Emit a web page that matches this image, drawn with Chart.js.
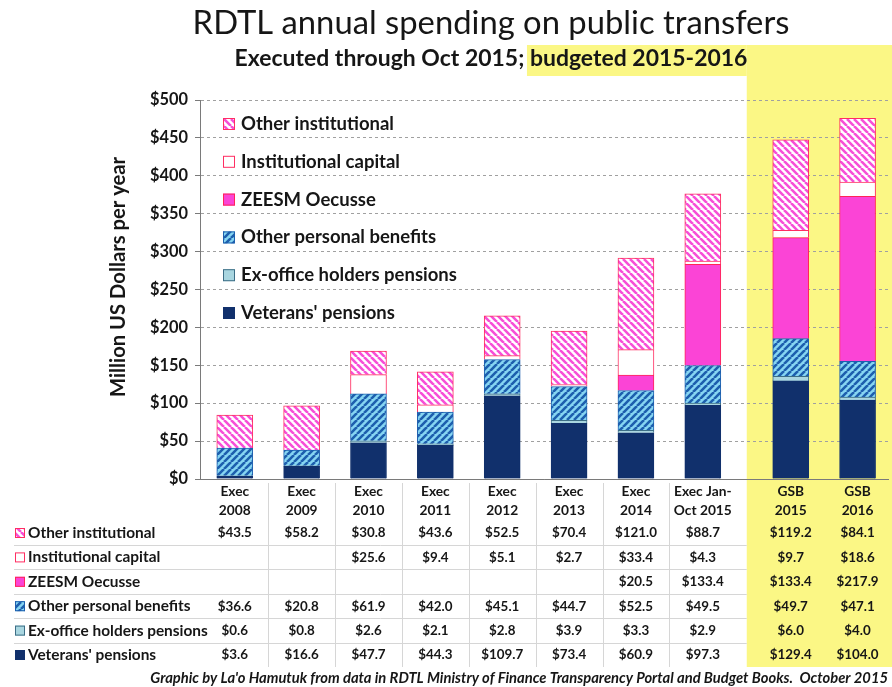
<!DOCTYPE html>
<html lang="en">
<head>
<meta charset="UTF-8">
<title>RDTL annual spending on public transfers</title>
<script src="https://cdn.jsdelivr.net/npm/chart.js"></script>
<style>
  body { margin: 0; background: #fff; }
  #chart { display: block; }
</style>
</head>
<body>
<canvas id="chart" width="892" height="687"></canvas>
<script>
// two-line column labels, also the header row of the table
const categories = [
  ['Exec', '2008'], ['Exec', '2009'], ['Exec', '2010'], ['Exec', '2011'], ['Exec', '2012'],
  ['Exec', '2013'], ['Exec', '2014'], ['Exec Jan-', 'Oct 2015'], ['GSB', '2015'], ['GSB', '2016']
];
// million US$
const veterans      = [3.6, 16.6, 47.7, 44.3, 109.7, 73.4, 60.9, 97.3, 129.4, 104.0];
const exOffice      = [0.6, 0.8, 2.6, 2.1, 2.8, 3.9, 3.3, 2.9, 6.0, 4.0];
const otherPersonal = [36.6, 20.8, 61.9, 42.0, 45.1, 44.7, 52.5, 49.5, 49.7, 47.1];
const zeesm         = [null, null, null, null, null, null, 20.5, 133.4, 133.4, 217.9];
const instCapital   = [null, null, 25.6, 9.4, 5.1, 2.7, 33.4, 4.3, 9.7, 18.6];
const otherInst     = [43.5, 58.2, 30.8, 43.6, 52.5, 70.4, 121.0, 88.7, 119.2, 84.1];
const yTickValues   = [0, 50, 100, 150, 200, 250, 300, 350, 400, 450, 500];

const FONT = 'Lato';
const BUDGET_FROM = 8;   // first budgeted column (yellow)
const GAP = 0.315;       // extra room before the budget columns
const colPos = i => i + (i >= BUDGET_FROM ? GAP : 0);

// diagonal hatch fills
function stripes(bg, fg, dir) {
  const s = 7, c = document.createElement('canvas');
  c.width = s; c.height = s;
  const g = c.getContext('2d');
  g.fillStyle = bg;
  g.fillRect(0, 0, s, s);
  g.strokeStyle = fg;
  g.lineWidth = 2.6;
  g.beginPath();
  for (let k = -1; k <= 1; k++) {
    if (dir === '/') { g.moveTo(k * s, s); g.lineTo(k * s + s, 0); }
    else { g.moveTo(k * s, 0); g.lineTo(k * s + s, s); }
  }
  g.stroke();
  return g.createPattern(c, 'repeat');
}

// bottom to top of the stack
const series = [
  { label: "Veterans' pensions", data: veterans, fill: '#11306c', border: '#11306c' },
  { label: 'Ex-office holders pensions', data: exOffice, fill: '#a9d6e0', border: '#3d6e86' },
  { label: 'Other personal benefits', data: otherPersonal, fill: stripes('#86d5f2', '#1d5fae', '/'), border: '#1d5fae' },
  { label: 'ZEESM Oecusse', data: zeesm, fill: '#fb44d6', border: '#ff2457' },
  { label: 'Institutional capital', data: instCapital, fill: '#ffffff', border: '#ff2e62' },
  { label: 'Other institutional', data: otherInst, fill: stripes('#ffffff', '#f74fd8', '\\'), border: '#ff2e62' }
];

const scratch = document.createElement('canvas').getContext('2d');
function fitSize(text, style, width) {
  scratch.font = style + ' 100px ' + FONT;
  return 100 * width / scratch.measureText(text).width;
}
function fitFont(text, style, width) {
  return style + ' ' + fitSize(text, style, width).toFixed(2) + 'px ' + FONT;
}

function swatch(ctx, x, y, size, s) {
  ctx.fillStyle = s.fill;
  ctx.fillRect(x, y, size, size);
  ctx.strokeStyle = s.border;
  ctx.lineWidth = 1;
  ctx.strokeRect(x + 0.5, y + 0.5, size - 1, size - 1);
}

const decor = {
  id: 'decor',
  beforeDraw(chart) {
    const ctx = chart.ctx, xs = chart.scales.x;
    const split = (xs.getPixelForValue(colPos(BUDGET_FROM - 1)) + xs.getPixelForValue(colPos(BUDGET_FROM))) / 2;
    ctx.save();
    ctx.fillStyle = '#ffffff';
    ctx.fillRect(0, 0, chart.width, chart.height);
    ctx.fillStyle = '#fbf785';
    ctx.fillRect(split, 45, chart.width - split, 622);
    // highlight behind "budgeted 2015-2016"
    const sub1 = 'Executed through Oct 2015; ', sub2 = 'budgeted 2015-2016';
    ctx.font = fitFont(sub1 + sub2, 'bold', 513);
    const left = 491 - ctx.measureText(sub1 + sub2).width / 2 + ctx.measureText(sub1).width;
    ctx.fillRect(left - 3, 45, split - left + 3, 31);
    ctx.restore();
  },
  afterDraw(chart) {
    const ctx = chart.ctx, xs = chart.scales.x;
    const split = (xs.getPixelForValue(colPos(BUDGET_FROM - 1)) + xs.getPixelForValue(colPos(BUDGET_FROM))) / 2;
    ctx.save();
    ctx.textBaseline = 'middle';
    ctx.fillStyle = '#161616';

    // titles
    ctx.textAlign = 'center';
    ctx.font = fitFont('RDTL annual spending on public transfers', 'normal', 597);
    ctx.fillText('RDTL annual spending on public transfers', 491, 23);
    ctx.font = fitFont('Executed through Oct 2015; budgeted 2015-2016', 'bold', 513);
    ctx.fillText('Executed through Oct 2015; budgeted 2015-2016', 491, 59);

    // y axis title
    ctx.save();
    ctx.translate(118, 277);
    ctx.rotate(-Math.PI / 2);
    ctx.font = fitFont('Million US Dollars per year', 'bold', 240);
    ctx.fillText('Million US Dollars per year', 0, 0);
    ctx.restore();

    // legend inside the plot, top series first
    const rows = series.slice().reverse();
    ctx.textAlign = 'left';
    ctx.font = fitFont('Ex-office holders pensions', 'bold', 216);
    rows.forEach((s, r) => {
      const y = 124 + r * 37.8;
      swatch(ctx, 223, y - 6, 12, s);
      ctx.fillStyle = '#161616';
      ctx.fillText(s.label, 241, y);
    });

    // table grid lines
    ctx.strokeStyle = '#d6d6d6';
    ctx.lineWidth = 1;
    ctx.beginPath();
    for (let r = 0; r < rows.length - 1; r++) {
      const y = Math.round(545 + r * 24.4) + 0.5;
      ctx.moveTo(14, y); ctx.lineTo(split, y);
    }
    for (let i = 0; i < BUDGET_FROM - 1; i++) {
      const x = Math.round((xs.getPixelForValue(colPos(i)) + xs.getPixelForValue(colPos(i + 1))) / 2) + 0.5;
      ctx.moveTo(x, 483); ctx.lineTo(x, 667);
    }
    ctx.stroke();

    // column headers
    ctx.textAlign = 'center';
    ctx.fillStyle = '#161616';
    ctx.font = fitFont('Oct 2015', 'bold', 58);
    categories.forEach((c, i) => {
      const x = xs.getPixelForValue(colPos(i));
      ctx.fillText(c[0], x, 492);
      ctx.fillText(c[1], x, 511);
    });

    // table rows
    const labelFont = fitFont('Ex-office holders pensions', 'bold', 180);
    const valueFont = fitFont('$109.7', 'bold', 42);
    rows.forEach((s, r) => {
      const y = 533 + r * 24.4;
      swatch(ctx, 15, y - 5, 10, s);
      ctx.fillStyle = '#161616';
      ctx.textAlign = 'left';
      ctx.font = labelFont;
      ctx.fillText(s.label, 28, y);
      ctx.textAlign = 'center';
      ctx.font = valueFont;
      s.data.forEach((v, i) => {
        if (v === null) return;
        ctx.fillText('$' + v.toFixed(1), xs.getPixelForValue(colPos(i)), y);
      });
    });

    // source line
    const src = "Graphic by La'o Hamutuk from data in RDTL Ministry of Finance Transparency Portal and Budget Books.  October 2015";
    ctx.textAlign = 'right';
    ctx.font = fitFont(src, 'italic bold', 738);
    ctx.fillText(src, 888, 678);
    ctx.restore();
  }
};

new Chart(document.getElementById('chart'), {
  type: 'bar',
  data: {
    datasets: series.map(s => ({
      label: s.label,
      data: s.data.map((v, i) => ({ x: colPos(i), y: v })).filter(p => p.y !== null),
      backgroundColor: s.fill,
      borderColor: s.border,
      borderWidth: 1,
      barThickness: 36
    }))
  },
  options: {
    responsive: false,
    animation: false,
    devicePixelRatio: 1,
    layout: { padding: { top: 100, right: 4, left: 0, bottom: 0 } },
    plugins: { legend: { display: false }, tooltip: { enabled: false } },
    scales: {
      x: {
        type: 'linear',
        min: -0.52,
        max: 9.77,
        offset: false,
        stacked: true,
        ticks: { display: false },
        grid: { display: false, drawTicks: false, offset: false },
        border: { color: '#7a7a7a' },
        afterFit(scale) { scale.height = 208; }
      },
      y: {
        min: 0,
        max: 500,
        stacked: true,
        afterBuildTicks(scale) { scale.ticks = yTickValues.map(v => ({ value: v })); },
        ticks: {
          callback: v => '$' + v,
          color: '#161616',
          padding: 7,
          font: { family: FONT, weight: 'bold', size: fitSize('$500', 'bold', 38) }
        },
        grid: { color: '#a0a0a0', tickLength: 5, tickColor: '#7a7a7a', tickBorderDash: [] },
        border: { dash: [3, 3], color: '#7a7a7a' },
        afterFit(scale) { scale.width = 200; }
      }
    }
  },
  plugins: [decor]
});
</script>
</body>
</html>
